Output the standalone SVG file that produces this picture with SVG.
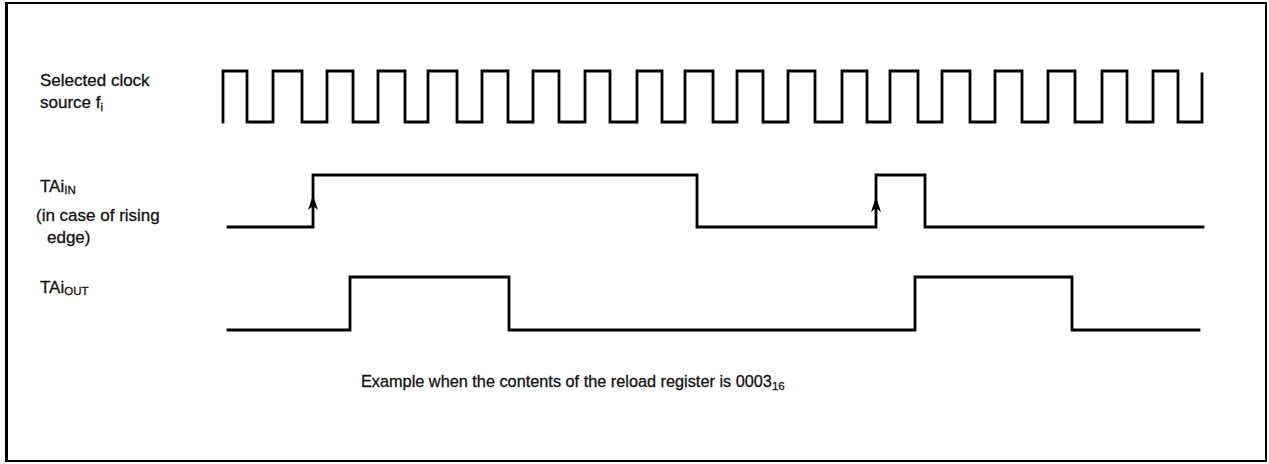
<svg xmlns="http://www.w3.org/2000/svg" xmlns:xlink="http://www.w3.org/1999/xlink" width="1269" height="464" viewBox="0 0 1269 464">
<style>
.lbl{font-family:"Liberation Sans",Arial,sans-serif;font-size:17px;fill:#111;stroke:#111;stroke-width:0.3}
.sub{font-size:11.5px}
.cap{font-family:"Liberation Sans",Arial,sans-serif;font-size:16.3px;fill:#111;stroke:#111;stroke-width:0.3}
.wave{fill:none;stroke:#000;stroke-width:2.8;stroke-linejoin:miter;stroke-linecap:square}
.frame{fill:none;stroke:#000;stroke-width:2}
</style>
<defs>
<path id="edgeArrow" d="M0,0 L-5,15 L0,11 L5,15 Z" fill="#000"/>
</defs>
<rect class="frame" x="6" y="3" width="1260" height="458"/>
<line x1="6.5" y1="3" x2="6.5" y2="461" stroke="#000" stroke-width="3"/>
<g id="clock">
<text class="lbl" x="40" y="86">Selected clock</text>
<text class="lbl" x="40" y="108">source f<tspan class="sub" dy="3">i</tspan></text>
<path class="wave" d="M223,122 V71 H247 V122 H273 V71 H302 V122 H327 V71 H353 V122 H378 V71 H405 V122 H428 V71 H457 V122 H482 V71 H508 V122 H533 V71 H559 V122 H585 V71 H610 V122 H637 V71 H662 V122 H685 V71 H713 V122 H737 V71 H763 V122 H788 V71 H815 V122 H842 V71 H867 V122 H890 V71 H918 V122 H942 V71 H970 V122 H995 V71 H1022 V122 H1048 V71 H1075 V122 H1102 V71 H1127 V122 H1153 V71 H1178 V122 H1202 V74"/>
</g>
<g id="tai-in">
<text class="lbl" x="40" y="192">TAi<tspan class="sub" dy="2">IN</tspan></text>
<text class="lbl" x="36" y="221">(in case of rising</text>
<text class="lbl" x="47" y="243">edge)</text>
<path class="wave" d="M228,227 H313 V175 H697 V227 H876 V175 H925 V227 H1203"/>
</g>
<g id="connectors">
<use xlink:href="#edgeArrow" x="313" y="195"/>
<use xlink:href="#edgeArrow" x="876" y="197"/>
</g>
<g id="tai-out">
<text class="lbl" x="40" y="293">TAi<tspan class="sub" dy="2">OUT</tspan></text>
<path class="wave" d="M228,330 H350 V277 H509 V330 H915 V277 H1072 V330 H1199"/>
</g>
<g id="caption">
<text class="cap" x="361" y="387">Example when the contents of the reload register is 0003<tspan class="sub" dy="3">16</tspan></text>
</g>
</svg>
